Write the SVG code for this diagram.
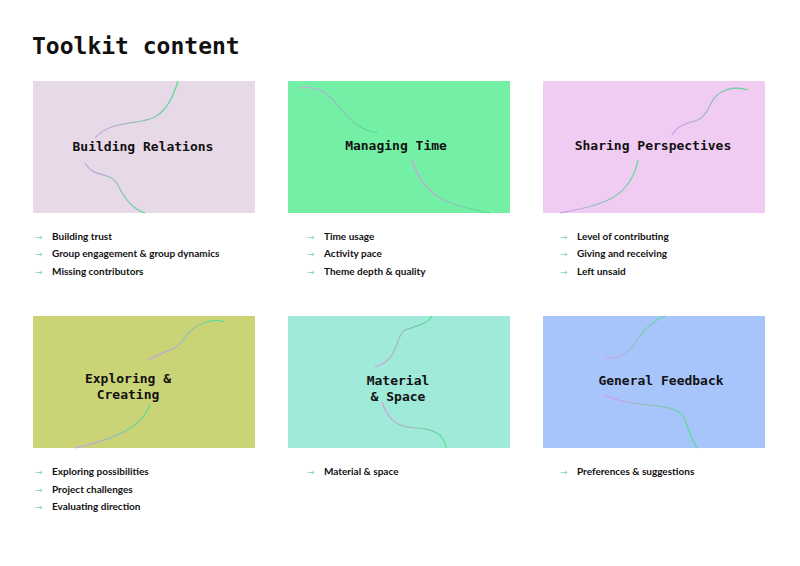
<svg xmlns="http://www.w3.org/2000/svg" width="800" height="566" viewBox="0 0 800 566">
<style>
.t{font-family:"DejaVu Sans Mono",monospace;font-weight:bold;fill:#111}
.h{font-size:13px;text-anchor:middle}
.l{font-family:"Lato","Noto Sans",sans-serif;font-size:10px;font-weight:bold;fill:#111}
.a{font-family:"DejaVu Sans",sans-serif;font-size:9px;fill:#7fd9a6}
.c{fill:none;stroke:url(#g);stroke-width:1.2}
</style>
<defs><linearGradient id="g" x1="0" y1="0" x2="1" y2="0"><stop offset="0" stop-color="#d79be6"/><stop offset="1" stop-color="#4fe08c"/></linearGradient></defs>
<rect width="800" height="566" fill="#fff"/>
<text class="t" x="32" y="54" font-size="23">Toolkit content</text>
<g id="n1"><rect x="33" y="81" width="222" height="132" fill="#e7d9e8"/>
<path class="c" d="M95,138 C110,120 140,125 155,117 C170,108 175,90 178,81"/>
<path class="c" d="M85,163 C95,180 110,170 118,185 C125,200 135,210 145,213"/>
<text class="t h" x="143" y="151">Building Relations</text></g>
<g id="n2"><rect x="288" y="81" width="222" height="132" fill="#74f0a6"/>
<path class="c" d="M300,88 C340,82 338,128 378,133"/>
<path class="c" d="M412,160 C425,200 450,205 490,213"/>
<text class="t h" x="396" y="150">Managing Time</text></g>
<g id="n3"><rect x="543" y="81" width="222" height="132" fill="#f0cbf2"/>
<path class="c" d="M672,135 C685,115 700,130 710,105 C718,88 735,86 748,90"/>
<path class="c" d="M560,213 C600,205 630,200 638,160"/>
<text class="t h" x="653" y="150">Sharing Perspectives</text></g>
<g id="n4"><rect x="33" y="316" width="222" height="132" fill="#cad476"/>
<path class="c" d="M148,360 C175,345 170,355 185,338 C195,322 215,318 225,322"/>
<path class="c" d="M75,448 C110,440 140,430 150,405"/>
<text class="t h" x="128" y="383">Exploring &amp;</text>
<text class="t h" x="128" y="399">Creating</text></g>
<g id="n5"><rect x="288" y="316" width="222" height="132" fill="#a0eada"/>
<path class="c" d="M375,367 C400,360 395,335 405,330 C420,325 428,323 432,316"/>
<path class="c" d="M382,402 C395,440 420,420 440,435 C444,440 446,445 446,448"/>
<text class="t h" x="398" y="385">Material</text>
<text class="t h" x="398" y="401">&amp; Space</text></g>
<g id="n6"><rect x="543" y="316" width="222" height="132" fill="#a8c5fb"/>
<path class="c" d="M605,358 C630,360 635,340 645,330 C655,320 660,318 665,316"/>
<path class="c" d="M605,395 C635,410 680,400 685,420 C690,435 695,445 697,448"/>
<text class="t h" x="661" y="385">General Feedback</text></g>
<g id="lists">
<text class="a" x="35" y="240">→</text><text class="l" x="52" y="240">Building trust</text>
<text class="a" x="35" y="257">→</text><text class="l" x="52" y="257">Group engagement &amp; group dynamics</text>
<text class="a" x="35" y="275">→</text><text class="l" x="52" y="275">Missing contributors</text>
<text class="a" x="307" y="240">→</text><text class="l" x="324" y="240">Time usage</text>
<text class="a" x="307" y="257">→</text><text class="l" x="324" y="257">Activity pace</text>
<text class="a" x="307" y="275">→</text><text class="l" x="324" y="275">Theme depth &amp; quality</text>
<text class="a" x="560" y="240">→</text><text class="l" x="577" y="240">Level of contributing</text>
<text class="a" x="560" y="257">→</text><text class="l" x="577" y="257">Giving and receiving</text>
<text class="a" x="560" y="275">→</text><text class="l" x="577" y="275">Left unsaid</text>
<text class="a" x="35" y="475">→</text><text class="l" x="52" y="475">Exploring possibilities</text>
<text class="a" x="35" y="493">→</text><text class="l" x="52" y="493">Project challenges</text>
<text class="a" x="35" y="510">→</text><text class="l" x="52" y="510">Evaluating direction</text>
<text class="a" x="307" y="475">→</text><text class="l" x="324" y="475">Material &amp; space</text>
<text class="a" x="560" y="475">→</text><text class="l" x="577" y="475">Preferences &amp; suggestions</text>
</g>
</svg>
